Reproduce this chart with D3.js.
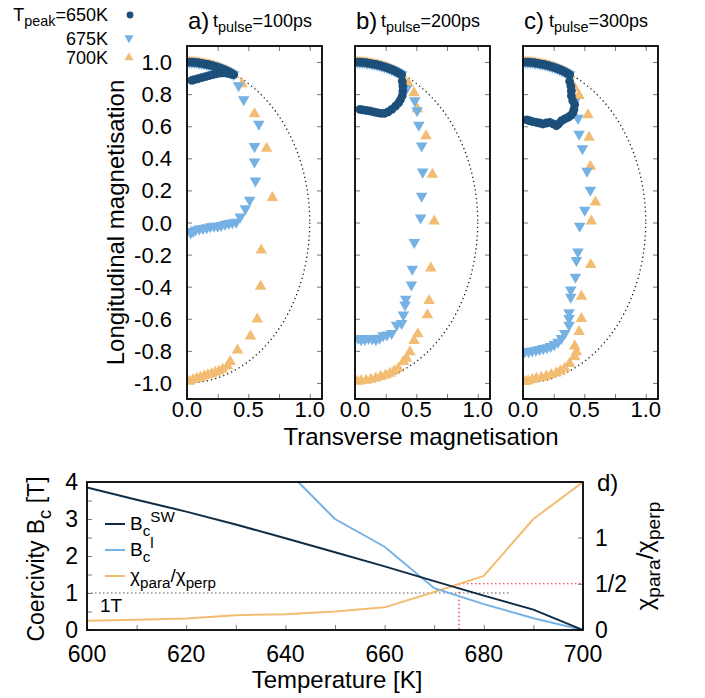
<!DOCTYPE html>
<html>
<head>
<meta charset="utf-8">
<script src="https://cdn.jsdelivr.net/npm/d3@7"></script>
<style>
	body { margin: 0; background: #fff; }
	text { font-family: "Liberation Sans", Arial, sans-serif; fill: #000; }
</style>
</head>
<body>
<script>
// shared start of every trajectory, along the unit circle
const rimTop = [[0.02,1.0],[0.04,0.999],[0.06,0.998],[0.08,0.996],[0.10,0.994],[0.12,0.992],[0.14,0.989],[0.16,0.986],[0.18,0.983],[0.20,0.979],[0.22,0.975],[0.24,0.97],[0.26,0.965],[0.28,0.959],[0.30,0.953],[0.32,0.946],[0.34,0.939],[0.36,0.931],[0.38,0.922]];

// a) t_pulse = 100ps
const a650 = rimTop.concat([[0.36,0.925],[0.33,0.93],[0.30,0.933],[0.27,0.931],[0.24,0.927],[0.21,0.921],[0.18,0.915],[0.15,0.909],[0.12,0.903],[0.09,0.896],[0.06,0.89],[0.04,0.886]]);
const a675 = rimTop.concat([[0.42,0.853],[0.462,0.766],[0.585,0.614],[0.55,0.474],[0.55,0.378],[0.558,0.259],[0.511,0.14],[0.476,0.086],[0.434,0.036],[0.401,0.002],[0.37,0.0],[0.34,-0.005],[0.31,-0.01],[0.28,-0.018],[0.25,-0.022],[0.22,-0.023],[0.19,-0.026],[0.16,-0.032],[0.13,-0.036],[0.10,-0.04],[0.07,-0.045],[0.05,-0.055],[0.03,-0.065]]);
const a700 = rimTop.concat([[0.448,0.864],[0.55,0.676],[0.649,0.461],[0.696,0.155],[0.605,-0.173],[0.6,-0.399],[0.572,-0.603],[0.517,-0.708],[0.412,-0.795],[0.352,-0.868],[0.33,-0.896],[0.29,-0.915],[0.26,-0.927],[0.23,-0.935],[0.2,-0.943],[0.17,-0.95],[0.14,-0.957],[0.11,-0.965],[0.08,-0.972],[0.05,-0.98],[0.02,-0.99]]);

// b) t_pulse = 200ps
const b650 = rimTop.concat([[0.385,0.88],[0.39,0.85],[0.39,0.82],[0.385,0.79],[0.37,0.765],[0.355,0.745],[0.33,0.725],[0.3,0.705],[0.27,0.69],[0.24,0.68],[0.21,0.68],[0.18,0.685],[0.15,0.69],[0.12,0.695],[0.09,0.698],[0.06,0.702],[0.04,0.705]]);
const b675 = rimTop.concat([[0.419,0.833],[0.487,0.76],[0.506,0.697],[0.52,0.607],[0.543,0.478],[0.551,0.315],[0.543,0.165],[0.535,0.029],[0.483,-0.123],[0.467,-0.29],[0.459,-0.388],[0.413,-0.478],[0.408,-0.513],[0.394,-0.576],[0.38,-0.628],[0.339,-0.639],[0.298,-0.691],[0.26,-0.7],[0.23,-0.705],[0.2,-0.72],[0.17,-0.73],[0.14,-0.725],[0.11,-0.722],[0.08,-0.728],[0.05,-0.73],[0.025,-0.722]]);
const b700 = rimTop.concat([[0.434,0.868],[0.481,0.808],[0.508,0.708],[0.579,0.54],[0.631,0.3],[0.645,0.008],[0.618,-0.284],[0.604,-0.487],[0.59,-0.576],[0.512,-0.695],[0.481,-0.737],[0.448,-0.806],[0.42,-0.847],[0.394,-0.868],[0.353,-0.91],[0.32,-0.925],[0.285,-0.941],[0.25,-0.952],[0.21,-0.96],[0.17,-0.97],[0.13,-0.978],[0.09,-0.984],[0.05,-0.988],[0.02,-0.99]]);

// c) t_pulse = 300ps
const c650 = rimTop.concat([[0.38,0.88],[0.39,0.85],[0.394,0.82],[0.394,0.79],[0.405,0.76],[0.421,0.735],[0.415,0.705],[0.408,0.685],[0.39,0.668],[0.367,0.655],[0.34,0.645],[0.313,0.634],[0.29,0.615],[0.272,0.603],[0.245,0.615],[0.218,0.624],[0.19,0.62],[0.163,0.614],[0.136,0.62],[0.109,0.624],[0.08,0.628],[0.055,0.634],[0.03,0.64]]);
const c675 = rimTop.concat([[0.421,0.75],[0.448,0.65],[0.457,0.551],[0.484,0.461],[0.522,0.321],[0.549,0.202],[0.503,0.077],[0.462,-0.023],[0.448,-0.183],[0.435,-0.236],[0.427,-0.34],[0.389,-0.42],[0.389,-0.465],[0.375,-0.562],[0.375,-0.597],[0.375,-0.639],[0.34,-0.691],[0.313,-0.722],[0.285,-0.745],[0.255,-0.76],[0.225,-0.772],[0.195,-0.78],[0.165,-0.785],[0.135,-0.79],[0.105,-0.795],[0.075,-0.8],[0.045,-0.805],[0.015,-0.805]]);
const c700 = rimTop.concat([[0.421,0.837],[0.457,0.791],[0.53,0.67],[0.538,0.53],[0.549,0.349],[0.59,0.127],[0.557,0.008],[0.552,-0.263],[0.476,-0.461],[0.476,-0.599],[0.457,-0.681],[0.421,-0.77],[0.435,-0.806],[0.421,-0.837],[0.38,-0.879],[0.34,-0.91],[0.305,-0.925],[0.272,-0.937],[0.23,-0.948],[0.19,-0.958],[0.15,-0.965],[0.109,-0.972],[0.075,-0.98],[0.041,-0.988],[0.015,-0.992]]);

const panelTags = ["a)", "b)", "c)"];
const pulseLabels = ["=100ps", "=200ps", "=300ps"];
const peakLabels = ["=650K", "675K", "700K"];
const magXLabels = [0, 0.5, 1.0];
const magXTicks = [0.25, 0.5, 0.75, 1.0];
const magYTicks = [-1, -0.8, -0.6, -0.4, -0.2, 0, 0.2, 0.4, 0.6, 0.8, 1];

// d) coercivity vs temperature
const temps = [600, 610, 620, 630, 640, 650, 660, 670, 680, 690, 700];
const bcSW = [3.85, 3.52, 3.2, 2.85, 2.48, 2.1, 1.72, 1.32, 0.93, 0.55, 0];
const bcLTemps = [640, 650, 660, 670, 680, 690, 700];
const bcL = [4.35, 3.0, 2.25, 1.13, 0.7, 0.32, 0];
const chiRatio = [0.1, 0.11, 0.125, 0.16, 0.17, 0.2, 0.245, 0.41, 0.585, 1.2, 1.6];
const tempTicks = [600, 620, 640, 660, 680, 700];
const tempMinor = [610, 630, 650, 670, 690];
const bcTicks = [0, 1, 2, 3, 4];
const bcMinor = [0.5, 1.5, 2.5, 3.5];
const chiTicks = [0, 0.5, 1];
const chiTickLabels = ["0", "1/2", "1"];
const fieldRef = 1, fieldRefEnd = 685;
const chiRef = 0.5, tempRef = 675;

const C650 = "#1d4f7b";
const C675 = "#76b1e4";
const C700 = "#f2bd73";
const CSW = "#0f2c44";

const width = 705;
const height = 698;
const svg = d3.select("body").append("svg").attr("width", width).attr("height", height);

// text with sub/superscripts: parts = [[text, "n"|"sub"|"sup"], ...]
const rich = (sel, parts, size) => {
	let cur = 0;
	parts.forEach(([t, k]) => {
		const target = k === "sub" ? size * 0.3 : k === "sup" ? -size * 0.42 : 0;
		sel.append("tspan")
			.attr("dy", target - cur)
			.attr("font-size", k === "n" ? size : size * 0.8)
			.text(t);
		cur = target;
	});
	return sel;
};

const styleTicks = (g) => {
	g.select(".domain").remove();
	g.selectAll("line").attr("stroke", "#777").attr("stroke-width", 1);
};

// ---------- top: magnetisation panels ----------
const panelLeft = [187, 355, 523];
const panelW = 135;
const panelTop = 46, panelBottom = 399;
const yM = d3.scaleLinear().domain([-1.1, 1.1]).range([panelBottom, panelTop]);
const seriesList = [[a650, a675, a700], [b650, b675, b700], [c650, c675, c700]];
const triangle = d3.symbol().type(d3.symbolTriangle).size(58)();

seriesList.forEach((series, i) => {
	const left = panelLeft[i];
	const xM = d3.scaleLinear().domain([0, 1.1]).range([left, left + panelW]);
	const g = svg.append("g");

	g.append("clipPath").attr("id", `clip${i}`)
		.append("rect").attr("x", left).attr("y", panelTop)
		.attr("width", panelW).attr("height", panelBottom - panelTop);

	g.append("g").attr("transform", `translate(0,${panelBottom})`)
		.call(d3.axisBottom(xM).tickValues(magXTicks).tickSize(-5).tickFormat("")).call(styleTicks);
	g.append("g").attr("transform", `translate(0,${panelTop})`)
		.call(d3.axisTop(xM).tickValues(magXTicks).tickSize(-5).tickFormat("")).call(styleTicks);
	g.append("g").attr("transform", `translate(${left},0)`)
		.call(d3.axisLeft(yM).tickValues(magYTicks).tickSize(-5).tickFormat("")).call(styleTicks);
	g.append("g").attr("transform", `translate(${left + panelW},0)`)
		.call(d3.axisRight(yM).tickValues(magYTicks).tickSize(-5).tickFormat("")).call(styleTicks);

	const plot = g.append("g").attr("clip-path", `url(#clip${i})`);
	plot.append("ellipse")
		.attr("cx", xM(0)).attr("cy", yM(0))
		.attr("rx", xM(1) - xM(0)).attr("ry", yM(0) - yM(1))
		.attr("fill", "none").attr("stroke", "#222")
		.attr("stroke-width", 1.3).attr("stroke-dasharray", "1.3,3");

	plot.selectAll(".up").data(series[2]).enter().append("path")
		.attr("d", triangle)
		.attr("transform", (d) => `translate(${xM(d[0])},${yM(d[1])})`)
		.attr("fill", C700);
	plot.selectAll(".down").data(series[1]).enter().append("path")
		.attr("d", triangle)
		.attr("transform", (d) => `translate(${xM(d[0])},${yM(d[1])}) rotate(180)`)
		.attr("fill", C675);
	plot.selectAll(".dot").data(series[0]).enter().append("circle")
		.attr("cx", (d) => xM(d[0])).attr("cy", (d) => yM(d[1]))
		.attr("r", 4.4).attr("fill", C650);

	g.append("rect").attr("x", left).attr("y", panelTop)
		.attr("width", panelW).attr("height", panelBottom - panelTop)
		.attr("fill", "none").attr("stroke", "#000").attr("stroke-width", 1.8);

	g.selectAll(".xl").data(magXLabels).enter().append("text")
		.attr("x", (d) => xM(d)).attr("y", 417)
		.attr("text-anchor", "middle").attr("font-size", 22)
		.text((d) => d.toFixed(1));

	g.append("text").attr("x", left + 1).attr("y", 29).attr("font-size", 24).text(panelTags[i]);
	rich(g.append("text").attr("x", left + 26).attr("y", 27),
		[["t", "n"], ["pulse", "sub"], [pulseLabels[i], "n"]], 18);
});

svg.selectAll(".yl").data(magYTicks).enter().append("text")
	.attr("x", 172).attr("y", (d) => yM(d) + 8)
	.attr("text-anchor", "end").attr("font-size", 22)
	.text((d) => d.toFixed(1).replace("-0.0", "0.0"));

svg.append("text").attr("transform", `translate(124,${yM(0)}) rotate(-90)`)
	.attr("text-anchor", "middle").attr("font-size", 24)
	.text("Longitudinal magnetisation");
svg.append("text").attr("x", 421).attr("y", 445)
	.attr("text-anchor", "middle").attr("font-size", 24)
	.text("Transverse magnetisation");

// legend of the peak temperatures
const legendRows = [20.5, 44.5, 64];
rich(svg.append("text").attr("x", 108).attr("y", legendRows[0]).attr("text-anchor", "end"),
	[["T", "n"], ["peak", "sub"], [peakLabels[0], "n"]], 18);
svg.append("text").attr("x", 108).attr("y", legendRows[1]).attr("text-anchor", "end")
	.attr("font-size", 18).text(peakLabels[1]);
svg.append("text").attr("x", 108).attr("y", legendRows[2]).attr("text-anchor", "end")
	.attr("font-size", 18).text(peakLabels[2]);
svg.append("circle").attr("cx", 130).attr("cy", legendRows[0] - 5.5).attr("r", 3.4).attr("fill", C650);
svg.append("path").attr("d", d3.symbol().type(d3.symbolTriangle).size(36)())
	.attr("transform", `translate(129,${legendRows[1] - 6.5}) rotate(180)`).attr("fill", C675);
svg.append("path").attr("d", d3.symbol().type(d3.symbolTriangle).size(36)())
	.attr("transform", `translate(129,${legendRows[2] - 6.5})`).attr("fill", C700);

// ---------- bottom: coercivity panel ----------
const bL = 87, bR = 583, bT = 482, bB = 630;
const xT = d3.scaleLinear().domain([600, 700]).range([bL, bR]);
const yB = d3.scaleLinear().domain([0, 4]).range([bB, bT]);
const yC = d3.scaleLinear().domain([0, 1.6]).range([bB, bT]);
const gb = svg.append("g");

gb.append("clipPath").attr("id", "clipB")
	.append("rect").attr("x", bL).attr("y", bT).attr("width", bR - bL).attr("height", bB - bT);

gb.append("g").attr("transform", `translate(0,${bB})`)
	.call(d3.axisBottom(xT).tickValues(tempMinor.concat(tempTicks)).tickSize(-5).tickFormat("")).call(styleTicks);
gb.append("g").attr("transform", `translate(${bL},0)`)
	.call(d3.axisLeft(yB).tickValues(bcMinor.concat(bcTicks)).tickSize(-5).tickFormat("")).call(styleTicks);
gb.append("g").attr("transform", `translate(${bR},0)`)
	.call(d3.axisRight(yC).tickValues(chiTicks).tickSize(-5).tickFormat("")).call(styleTicks);

// reference lines
gb.append("line").attr("x1", xT(600)).attr("x2", xT(fieldRefEnd))
	.attr("y1", yB(fieldRef)).attr("y2", yB(fieldRef))
	.attr("stroke", "#555").attr("stroke-width", 1.2).attr("stroke-dasharray", "1.5,2.5");
gb.append("line").attr("x1", xT(tempRef)).attr("x2", xT(700))
	.attr("y1", yC(chiRef)).attr("y2", yC(chiRef))
	.attr("stroke", "#e8282b").attr("stroke-width", 1.2).attr("stroke-dasharray", "1.5,2.5");
gb.append("line").attr("x1", xT(tempRef)).attr("x2", xT(tempRef))
	.attr("y1", yC(chiRef)).attr("y2", yC(0))
	.attr("stroke", "#e8282b").attr("stroke-width", 1.2).attr("stroke-dasharray", "1.5,2.5");
gb.append("text").attr("x", 100).attr("y", 612).attr("font-size", 19).text("1T");

const lines = gb.append("g").attr("clip-path", "url(#clipB)");
lines.append("path").datum(d3.zip(temps, chiRatio))
	.attr("d", d3.line().x((d) => xT(d[0])).y((d) => yC(d[1])))
	.attr("fill", "none").attr("stroke", C700).attr("stroke-width", 2);
lines.append("path").datum(d3.zip(bcLTemps, bcL))
	.attr("d", d3.line().x((d) => xT(d[0])).y((d) => yB(d[1])))
	.attr("fill", "none").attr("stroke", C675).attr("stroke-width", 2);
lines.append("path").datum(d3.zip(temps, bcSW))
	.attr("d", d3.line().x((d) => xT(d[0])).y((d) => yB(d[1])))
	.attr("fill", "none").attr("stroke", CSW).attr("stroke-width", 2);

gb.append("rect").attr("x", bL).attr("y", bT).attr("width", bR - bL).attr("height", bB - bT)
	.attr("fill", "none").attr("stroke", "#000").attr("stroke-width", 1.8);

// tick labels
gb.selectAll(".tl").data(tempTicks).enter().append("text")
	.attr("x", (d) => xT(d)).attr("y", 662)
	.attr("text-anchor", "middle").attr("font-size", 23).text((d) => d);
gb.selectAll(".bl").data(bcTicks).enter().append("text")
	.attr("x", 78).attr("y", (d) => yB(d) + 8)
	.attr("text-anchor", "end").attr("font-size", 23).text((d) => d);
gb.selectAll(".cl").data(chiTicks).enter().append("text")
	.attr("x", 595).attr("y", (d) => yC(d) + 8)
	.attr("font-size", 23).text((d, i) => chiTickLabels[i]);

gb.append("text").attr("x", 337).attr("y", 688)
	.attr("text-anchor", "middle").attr("font-size", 24).text("Temperature [K]");
rich(gb.append("text").attr("transform", "translate(44,559) rotate(-90)").attr("text-anchor", "middle"),
	[["Coercivity B", "n"], ["c", "sub"], [" [T]", "n"]], 23);
rich(gb.append("text").attr("transform", "translate(653,556) rotate(-90)").attr("text-anchor", "middle"),
	[["χ", "n"], ["para", "sub"], ["/χ", "n"], ["perp", "sub"]], 24);
gb.append("text").attr("x", 597).attr("y", 491).attr("font-size", 24).text("d)");

// legend
const legRows = [524, 550, 576];
const legColors = [CSW, C675, C700];
const legText = [
	[["B", "n"], ["c", "sub"], ["SW", "sup"]],
	[["B", "n"], ["c", "sub"], ["l", "sup"]],
	[["χ", "n"], ["para", "sub"], ["/χ", "n"], ["perp", "sub"]],
];
legRows.forEach((y, i) => {
	gb.append("line").attr("x1", 105).attr("x2", 125).attr("y1", y).attr("y2", y)
		.attr("stroke", legColors[i]).attr("stroke-width", 2);
	rich(gb.append("text").attr("x", 130).attr("y", y + 6), legText[i], 19);
});
</script>
</body>
</html>
